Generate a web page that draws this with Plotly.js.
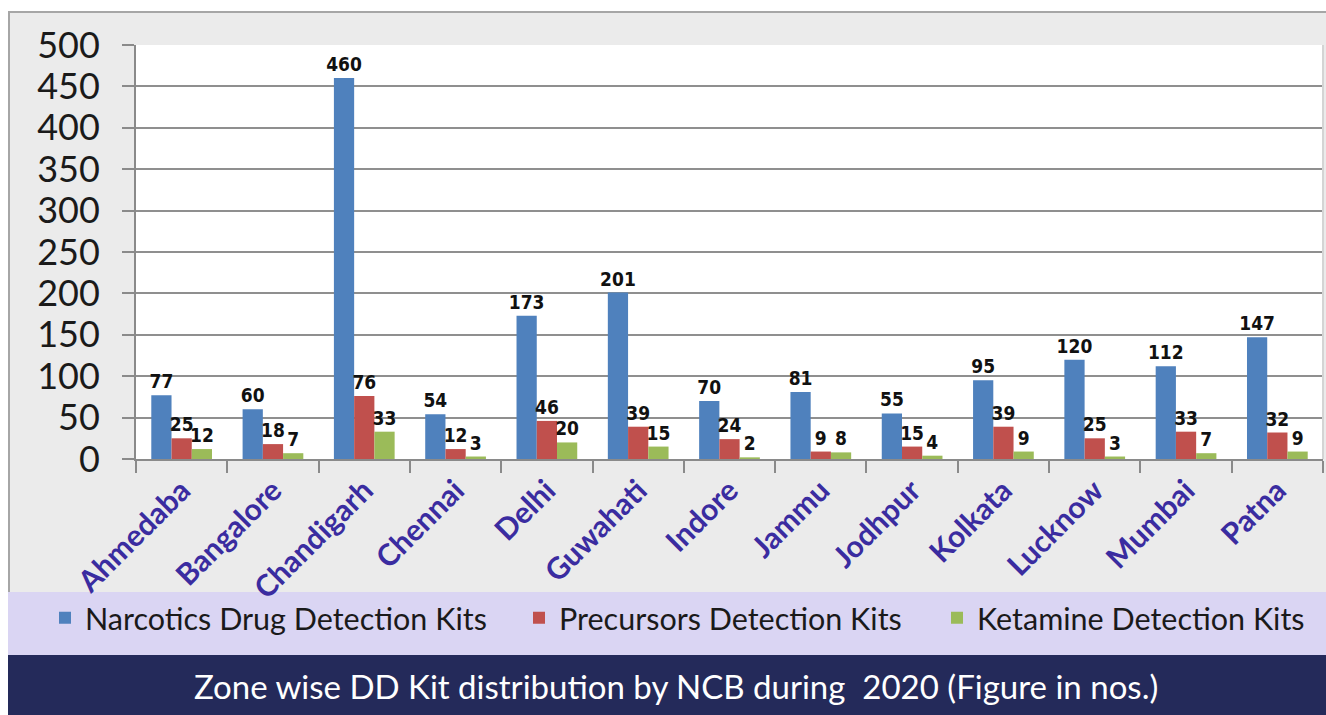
<!DOCTYPE html>
<html>
<head>
<meta charset="utf-8">
<script src="https://cdn.plot.ly/plotly-3.0.1.min.js"></script>
<style>
  html, body { margin: 0; padding: 0; background: #ffffff; }
  #chart { width: 1326px; height: 715px; }
</style>
</head>
<body>
<div id="chart"></div>
<script>
// ---- data ----
const zones = ["Ahmedaba", "Bangalore", "Chandigarh", "Chennai", "Delhi", "Guwahati", "Indore",
               "Jammu", "Jodhpur", "Kolkata", "Lucknow", "Mumbai", "Patna"];
const narcoticsKits  = [77, 60, 460, 54, 173, 201, 70, 81, 55, 95, 120, 112, 147];
const precursorsKits = [25, 18, 76, 12, 46, 39, 24, 9, 15, 39, 25, 33, 32];
const ketamineKits   = [12, 7, 33, 3, 20, 15, 2, 8, 4, 9, 3, 7, 9];
const seriesNames = ["Narcotics Drug Detection Kits", "Precursors Detection Kits", "Ketamine Detection Kits"];
const yTicks = [0, 50, 100, 150, 200, 250, 300, 350, 400, 450, 500];
const chartTitle = "Zone wise DD Kit distribution by NCB during  2020 (Figure in nos.)";

// ---- styles ----
const colors = ["#4f81bd", "#c0504d", "#9bbb59"];
const labelFont = { family: "'DejaVu Sans Condensed', 'Liberation Sans Narrow', 'Arial Narrow', sans-serif",
                    size: 19, color: "#111111", weight: "bold", stretch: "condensed" };
const mainFont = "Lato, 'Open Sans', sans-serif";

function barTrace(vals, i, legendId) {
  return {
    type: "bar",
    x: zones,
    y: vals,
    name: seriesNames[i],
    marker: { color: colors[i] },
    text: vals.map(String),
    textposition: "outside",
    textfont: labelFont,
    constraintext: "none",
    cliponaxis: false,
    legend: legendId,
    hoverinfo: "x+y+name"
  };
}

const data = [
  barTrace(narcoticsKits, 0, "legend"),
  barTrace(precursorsKits, 1, "legend2"),
  barTrace(ketamineKits, 2, "legend3")
];

// pixel -> paper helpers (plot area: x 136..1323, y 45..459)
const L = 136, R = 3, T = 45, B = 256, W = 1326, H = 715;
const PW = W - L - R, PH = H - T - B;
const px = X => (X - L) / PW;
const py = Y => (T + PH - Y) / PH;

const legendCommon = {
  orientation: "h",
  yanchor: "middle",
  xanchor: "left",
  bgcolor: "rgba(0,0,0,0)",
  font: { family: mainFont, size: 30.5, color: "#1a1a1a" }
};

const layout = {
  width: W, height: H,
  margin: { l: L, r: R, t: T, b: B, autoexpand: false },
  paper_bgcolor: "#ffffff",
  plot_bgcolor: "#ffffff",
  barmode: "group",
  bargap: 0.335,
  bargroupgap: 0,
  showlegend: true,
  legend:  Object.assign({ x: px(45),  y: py(618) }, legendCommon),
  legend2: Object.assign({ x: px(519), y: py(618) }, legendCommon),
  legend3: Object.assign({ x: px(937), y: py(618) }, legendCommon),
  xaxis: {
    type: "category",
    tickangle: -45,
    ticks: "outside",
    tickson: "boundaries",
    ticklen: 12,
    tickwidth: 2,
    tickcolor: "#8a8a8a",
    showline: true,
    linecolor: "#8a8a8a",
    linewidth: 2,
    showgrid: false,
    tickfont: { family: mainFont, size: 30, color: "#3a2ca0", weight: "bold" }
  },
  yaxis: {
    range: [0, 500],
    tickvals: yTicks,
    ticktext: yTicks.map(String),
    ticks: "outside",
    ticklen: 12,
    tickwidth: 2,
    tickcolor: "#8a8a8a",
    showline: true,
    linecolor: "#8a8a8a",
    linewidth: 2,
    showgrid: true,
    gridcolor: "#8f8f8f",
    gridwidth: 2,
    zeroline: false,
    ticklabelstandoff: 15,
    tickfont: { family: mainFont, size: 36, color: "#1a1a1a" }
  },
  shapes: [
    // outer grey panel
    { type: "rect", xref: "paper", yref: "paper", layer: "below",
      x0: px(9), x1: px(1340), y0: py(655), y1: py(12),
      fillcolor: "#ebebeb", line: { color: "#a6a6a6", width: 2 } },
    // legend band
    { type: "rect", xref: "paper", yref: "paper", layer: "below",
      x0: px(8), x1: px(1340), y0: py(655), y1: py(592),
      fillcolor: "#dad5f3", line: { width: 0 } },
    // title band
    { type: "rect", xref: "paper", yref: "paper", layer: "below",
      x0: px(8), x1: px(1340), y0: py(730), y1: py(655),
      fillcolor: "#242a5a", line: { width: 0 } },
    // plot area
    { type: "rect", xref: "paper", yref: "paper", layer: "below",
      x0: 0, x1: 1, y0: 0, y1: 1,
      fillcolor: "#ffffff", line: { width: 0 } },
    // right border of plot area
    { type: "line", xref: "paper", yref: "paper", layer: "above",
      x0: 1, x1: 1, y0: 0, y1: 1,
      line: { color: "#d4d4d4", width: 2 } }
  ],
  annotations: [
    { text: chartTitle, xref: "paper", yref: "paper",
      x: px(676), y: py(686), xanchor: "center", yanchor: "middle",
      showarrow: false,
      font: { family: mainFont, size: 33, color: "#ffffff" } }
  ]
};

Plotly.newPlot("chart", data, layout, { displayModeBar: false, staticPlot: true });
</script>
</body>
</html>
